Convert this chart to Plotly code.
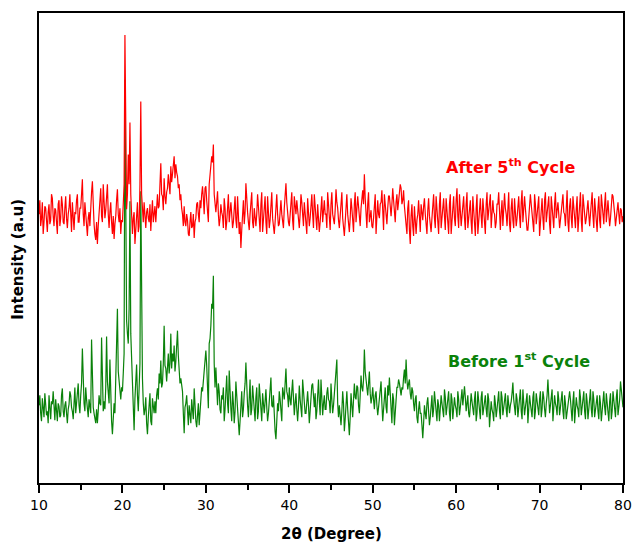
import plotly.graph_objects as go

# Sampling grid of the diffractometer scan (degrees 2-theta)
TWO_THETA_START = 10.0
TWO_THETA_STEP = 0.1

# Intensity (a.u., stacked) - "Before 1st Cycle" (green), 10 samples per degree
before_1st = [
    78, 88, 70, 62, 85, 74, 66, 90, 80, 68,        # 10
    72, 60, 88, 76, 64, 82, 79, 92, 70, 63,        # 11
    84, 74, 62, 80, 77, 66, 68, 88, 95, 72,        # 12
    66, 78, 82, 70, 60, 74, 79, 92, 88, 76,        # 13
    72, 64, 84, 96, 70, 80, 90, 100, 78, 70,       # 14
    88, 100, 135, 90, 80, 72, 96, 84, 74, 66,      # 15
    84, 78, 70, 144, 92, 76, 70, 62, 60, 74,       # 16
    60, 72, 88, 80, 78, 146, 90, 72, 82, 74,       # 17
    96, 147, 102, 90, 80, 124, 70, 62, 49, 66,     # 18
    80, 70, 110, 125, 175, 112, 100, 88, 84, 96,   # 19
    92, 110, 130, 405, 200, 163, 150, 140, 175, 283,  # 20
    150, 120, 95, 70, 53, 85, 100, 119, 88, 72,    # 21
    95, 120, 293, 140, 105, 80, 68, 74, 86, 60,    # 22
    49, 66, 78, 90, 62, 58, 85, 76, 70, 82,        # 23
    70, 88, 95, 84, 110, 100, 123, 96, 100, 120,   # 24
    158, 118, 115, 102, 125, 130, 110, 120, 150, 115,  # 25
    130, 122, 138, 112, 122, 140, 153, 128, 118, 100,  # 26
    105, 96, 92, 70, 50, 76, 80, 88, 66, 58,       # 27
    78, 66, 60, 84, 72, 64, 95, 70, 62, 56,        # 28
    74, 80, 58, 70, 85, 96, 92, 104, 110, 128,     # 29
    133, 118, 100, 75, 140, 145, 158, 180, 175, 208,  # 30
    120, 96, 116, 90, 78, 100, 92, 74, 70, 88,     # 31
    84, 96, 62, 74, 98, 108, 80, 70, 113, 86,      # 32
    74, 62, 92, 80, 60, 72, 102, 88, 70, 58,       # 33
    48, 62, 80, 92, 66, 74, 90, 100, 121, 82,      # 34
    78, 66, 92, 104, 68, 74, 98, 84, 74, 62,       # 35
    86, 96, 64, 72, 100, 88, 76, 62, 90, 80,       # 36
    70, 82, 94, 76, 62, 70, 84, 96, 106, 78,       # 37
    76, 88, 60, 52, 44, 66, 80, 72, 92, 84,        # 38
    70, 62, 96, 86, 84, 100, 115, 92, 88, 76,      # 39
    96, 84, 78, 92, 104, 86, 68, 80, 90, 74,       # 40
    62, 76, 98, 84, 74, 66, 104, 90, 80, 70,       # 41
    70, 84, 92, 78, 60, 72, 86, 98, 100, 82,       # 42
    76, 90, 64, 72, 96, 104, 82, 68, 104, 88,      # 43
    68, 80, 88, 74, 74, 90, 96, 84, 82, 70,        # 44
    100, 84, 70, 78, 88, 100, 110, 124, 80, 66,    # 45
    78, 70, 58, 72, 92, 80, 52, 64, 80, 92,        # 46
    74, 60, 48, 66, 90, 78, 66, 84, 100, 86,       # 47
    84, 98, 96, 78, 70, 88, 108, 96, 92, 104,      # 48
    134, 112, 104, 92, 88, 100, 112, 90, 80, 86,   # 49
    96, 84, 74, 88, 92, 78, 68, 76, 86, 94,        # 50
    102, 80, 62, 74, 84, 96, 76, 70, 98, 88,       # 51
    106, 92, 72, 60, 90, 84, 58, 70, 84, 96,       # 52
    96, 104, 100, 92, 88, 96, 94, 106, 114, 100,   # 53
    124, 104, 94, 100, 104, 90, 84, 96, 92, 80,    # 54
    72, 84, 88, 66, 60, 74, 82, 70, 70, 58,        # 55
    45, 60, 78, 70, 64, 80, 86, 72, 58, 66,        # 56
    80, 88, 66, 74, 92, 84, 70, 62, 84, 78,        # 57
    62, 74, 88, 80, 74, 66, 94, 86, 68, 76,        # 58
    82, 92, 70, 62, 90, 84, 64, 72, 86, 78,        # 59
    74, 66, 92, 84, 68, 76, 84, 94, 78, 88,        # 60
    97, 86, 72, 80, 88, 70, 66, 78, 90, 82,        # 61
    76, 68, 84, 92, 62, 70, 92, 84, 70, 64,        # 62
    86, 92, 68, 76, 80, 88, 74, 66, 90, 84,        # 63
    56, 70, 82, 74, 70, 62, 88, 80, 66, 74,        # 64
    84, 92, 72, 64, 92, 86, 68, 76, 80, 90,        # 65
    74, 66, 88, 80, 70, 78, 82, 90, 101, 84,       # 66
    76, 68, 90, 84, 66, 74, 86, 94, 72, 64,        # 67
    94, 84, 68, 76, 82, 90, 60, 70, 88, 80,        # 68
    72, 66, 86, 92, 64, 72, 90, 84, 76, 68,        # 69
    84, 92, 66, 74, 92, 86, 74, 66, 80, 88,        # 70
    104, 86, 70, 78, 86, 94, 62, 72, 88, 80,       # 71
    76, 68, 92, 84, 68, 76, 84, 92, 72, 64,        # 72
    88, 80, 64, 72, 80, 90, 92, 84, 70, 62,        # 73
    82, 92, 60, 70, 86, 78, 74, 66, 94, 86,        # 74
    68, 76, 84, 92, 72, 64, 90, 82, 64, 72,        # 75
    86, 94, 74, 66, 92, 84, 66, 74, 80, 88,        # 76
    72, 64, 88, 80, 62, 70, 84, 92, 76, 68,        # 77
    90, 82, 70, 62, 82, 90, 64, 72, 92, 84,        # 78
    74, 66, 86, 94, 68, 76, 84, 102, 90, 80,       # 79
    76,                                            # 80
]

# Intensity (a.u., stacked) - "After 5th Cycle" (red)
after_5th = [
    270, 284, 258, 266, 282, 250, 262, 278, 276, 256,  # 10
    252, 272, 280, 260, 264, 290, 286, 268, 258, 276,  # 11
    274, 262, 250, 280, 284, 258, 266, 288, 280, 262,  # 12
    260, 276, 288, 266, 256, 270, 276, 290, 264, 252,  # 13
    282, 266, 254, 272, 270, 284, 290, 262, 262, 276,  # 14
    276, 290, 305, 270, 258, 282, 270, 256, 248, 266,  # 15
    272, 258, 285, 292, 303, 276, 260, 250, 244, 262,  # 16
    240, 258, 270, 284, 296, 268, 262, 300, 280, 266,  # 17
    274, 290, 300, 270, 256, 272, 282, 262, 250, 268,  # 18
    245, 260, 268, 284, 295, 270, 262, 276, 250, 264,  # 19
    262, 280, 300, 450, 310, 275, 290, 330, 300, 362,  # 20
    290, 270, 250, 266, 272, 240, 258, 268, 282, 252,  # 21
    258, 300, 383, 290, 270, 262, 282, 268, 256, 272,  # 22
    276, 266, 262, 280, 253, 270, 284, 262, 268, 278,  # 23
    262, 282, 290, 276, 278, 300, 321, 290, 288, 274,  # 24
    306, 288, 280, 292, 296, 310, 300, 290, 318, 302,  # 25
    310, 320, 328, 306, 320, 312, 308, 296, 300, 284,  # 26
    290, 276, 270, 258, 278, 262, 258, 270, 264, 250,  # 27
    248, 262, 272, 256, 258, 270, 246, 262, 266, 280,  # 28
    282, 270, 262, 284, 276, 290, 298, 286, 270, 296,  # 29
    298, 284, 276, 262, 300, 310, 318, 328, 322, 340,  # 30
    290, 276, 272, 282, 293, 270, 258, 266, 280, 272,  # 31
    268, 256, 286, 276, 254, 262, 276, 290, 262, 270,  # 32
    282, 270, 256, 262, 274, 288, 264, 256, 288, 274,  # 33
    250, 262, 236, 254, 270, 284, 260, 272, 301, 280,  # 34
    272, 262, 254, 270, 284, 292, 262, 256, 276, 268,  # 35
    258, 270, 290, 278, 266, 252, 280, 292, 252, 266,  # 36
    274, 288, 262, 250, 288, 276, 256, 264, 280, 292,  # 37
    266, 256, 250, 262, 282, 290, 270, 258, 260, 276,  # 38
    284, 270, 262, 256, 276, 288, 301, 282, 270, 262,  # 39
    258, 270, 280, 292, 264, 254, 288, 276, 270, 284,  # 40
    276, 262, 256, 270, 290, 282, 266, 258, 282, 270,  # 41
    262, 250, 286, 272, 258, 266, 278, 290, 270, 256,  # 42
    290, 278, 266, 254, 280, 268, 252, 262, 276, 288,  # 43
    262, 276, 284, 270, 270, 256, 292, 280, 266, 254,  # 44
    280, 292, 270, 262, 260, 274, 295, 282, 276, 264,  # 45
    256, 268, 282, 292, 266, 254, 248, 262, 276, 290,  # 46
    270, 258, 252, 266, 286, 276, 264, 252, 280, 292,  # 47
    262, 274, 288, 278, 270, 258, 276, 286, 294, 280,  # 48
    310, 286, 268, 256, 280, 292, 262, 270, 274, 258,  # 49
    256, 266, 278, 290, 250, 262, 284, 270, 266, 280,  # 50
    282, 294, 262, 254, 290, 278, 270, 260, 276, 288,  # 51
    288, 276, 268, 280, 296, 284, 276, 262, 282, 290,  # 52
    274, 286, 290, 300, 296, 280, 284, 294, 278, 270,  # 53
    262, 250, 276, 284, 254, 240, 268, 280, 258, 248,  # 54
    278, 262, 250, 264, 270, 284, 262, 252, 280, 270,  # 55
    264, 278, 286, 270, 258, 250, 274, 286, 268, 256,  # 56
    252, 266, 278, 290, 266, 256, 288, 276, 262, 250,  # 57
    280, 292, 256, 264, 274, 286, 268, 254, 286, 274,  # 58
    262, 250, 280, 290, 250, 264, 276, 288, 266, 258,  # 59
    284, 296, 268, 256, 290, 278, 258, 268, 276, 288,  # 60
    266, 254, 280, 292, 256, 266, 272, 284, 262, 250,  # 61
    288, 276, 260, 248, 276, 290, 250, 262, 274, 286,  # 62
    268, 256, 286, 276, 262, 250, 280, 292, 264, 276,  # 63
    278, 290, 256, 266, 284, 272, 270, 256, 262, 280,  # 64
    280, 292, 266, 254, 272, 284, 258, 270, 291, 276,  # 65
    270, 258, 282, 292, 260, 252, 276, 286, 264, 256,  # 66
    286, 272, 258, 266, 274, 288, 268, 256, 282, 294,  # 67
    262, 274, 288, 276, 266, 254, 254, 266, 276, 290,  # 68
    280, 268, 264, 252, 290, 280, 260, 270, 272, 288,  # 69
    248, 262, 276, 286, 266, 254, 284, 292, 262, 272,  # 70
    274, 288, 260, 250, 288, 276, 268, 256, 280, 292,  # 71
    266, 278, 282, 270, 256, 264, 276, 288, 290, 272,  # 72
    270, 258, 284, 294, 262, 252, 278, 286, 266, 256,  # 73
    288, 276, 268, 256, 276, 288, 252, 266, 282, 292,  # 74
    264, 252, 290, 280, 272, 260, 266, 280, 284, 270,  # 75
    258, 270, 280, 292, 268, 256, 286, 274, 262, 252,  # 76
    276, 288, 264, 256, 290, 278, 270, 260, 280, 292,  # 77
    262, 274, 284, 270, 258, 266, 276, 290, 288, 272,  # 78
    270, 258, 266, 280, 282, 270, 260, 276, 274, 262,  # 79
    268,                                               # 80
]

x_before = [round(TWO_THETA_START + TWO_THETA_STEP * i, 2) for i in range(len(before_1st))]
x_after = [round(TWO_THETA_START + TWO_THETA_STEP * i, 2) for i in range(len(after_5th))]

x_ticks = [10, 20, 30, 40, 50, 60, 70, 80]

FONT = "Comic Sans MS, DejaVu Sans, sans-serif"
GREEN = "#0A820A"
RED = "#FF0000"

fig = go.Figure()
fig.add_trace(go.Scatter(x=x_before, y=before_1st, mode="lines",
                         line=dict(color=GREEN, width=1.2), name="Before 1st Cycle",
                         showlegend=False))
fig.add_trace(go.Scatter(x=x_after, y=after_5th, mode="lines",
                         line=dict(color=RED, width=1.2), name="After 5th Cycle",
                         showlegend=False))

fig.update_layout(
    width=644, height=543,
    margin=dict(l=39, r=21, t=11, b=60),
    paper_bgcolor="white", plot_bgcolor="white",
    font=dict(family=FONT, color="black", size=14),
    xaxis=dict(range=[10, 80], tickvals=x_ticks, ticktext=[str(v) for v in x_ticks],
               showgrid=False, zeroline=False, showline=True, mirror=True,
               linecolor="black", linewidth=2, ticks="outside", ticklen=8, tickwidth=1.5,
               tickcolor="black", tickfont=dict(size=14, family=FONT),
               minor=dict(dtick=5, ticks="outside", ticklen=5, tickwidth=1.5, tickcolor="black",
                          showgrid=False)),
    yaxis=dict(range=[0, 472], showgrid=False, zeroline=False, showline=True, mirror=True,
               linecolor="black", linewidth=2, ticks="", showticklabels=False),
    annotations=[
        dict(text="<b>2θ (Degree)</b>", xref="paper", yref="paper", x=0.5, y=-0.108,
             xanchor="center", yanchor="middle", showarrow=False, font=dict(size=15)),
        dict(text="<b>Intensity (a.u)</b>", xref="paper", yref="paper",
             x=-21 / 584, y=0.475, textangle=-90, xanchor="center", yanchor="middle",
             showarrow=False, font=dict(size=15)),
        dict(text="<b>After 5<sup>th</sup> Cycle</b>", x=66.5, y=318, xref="x", yref="y",
             showarrow=False, font=dict(size=16, color=RED)),
        dict(text="<b>Before 1<sup>st</sup> Cycle</b>", x=67.5, y=123, xref="x", yref="y",
             showarrow=False, font=dict(size=16, color=GREEN)),
    ],
)

fig.write_html("out.html")
